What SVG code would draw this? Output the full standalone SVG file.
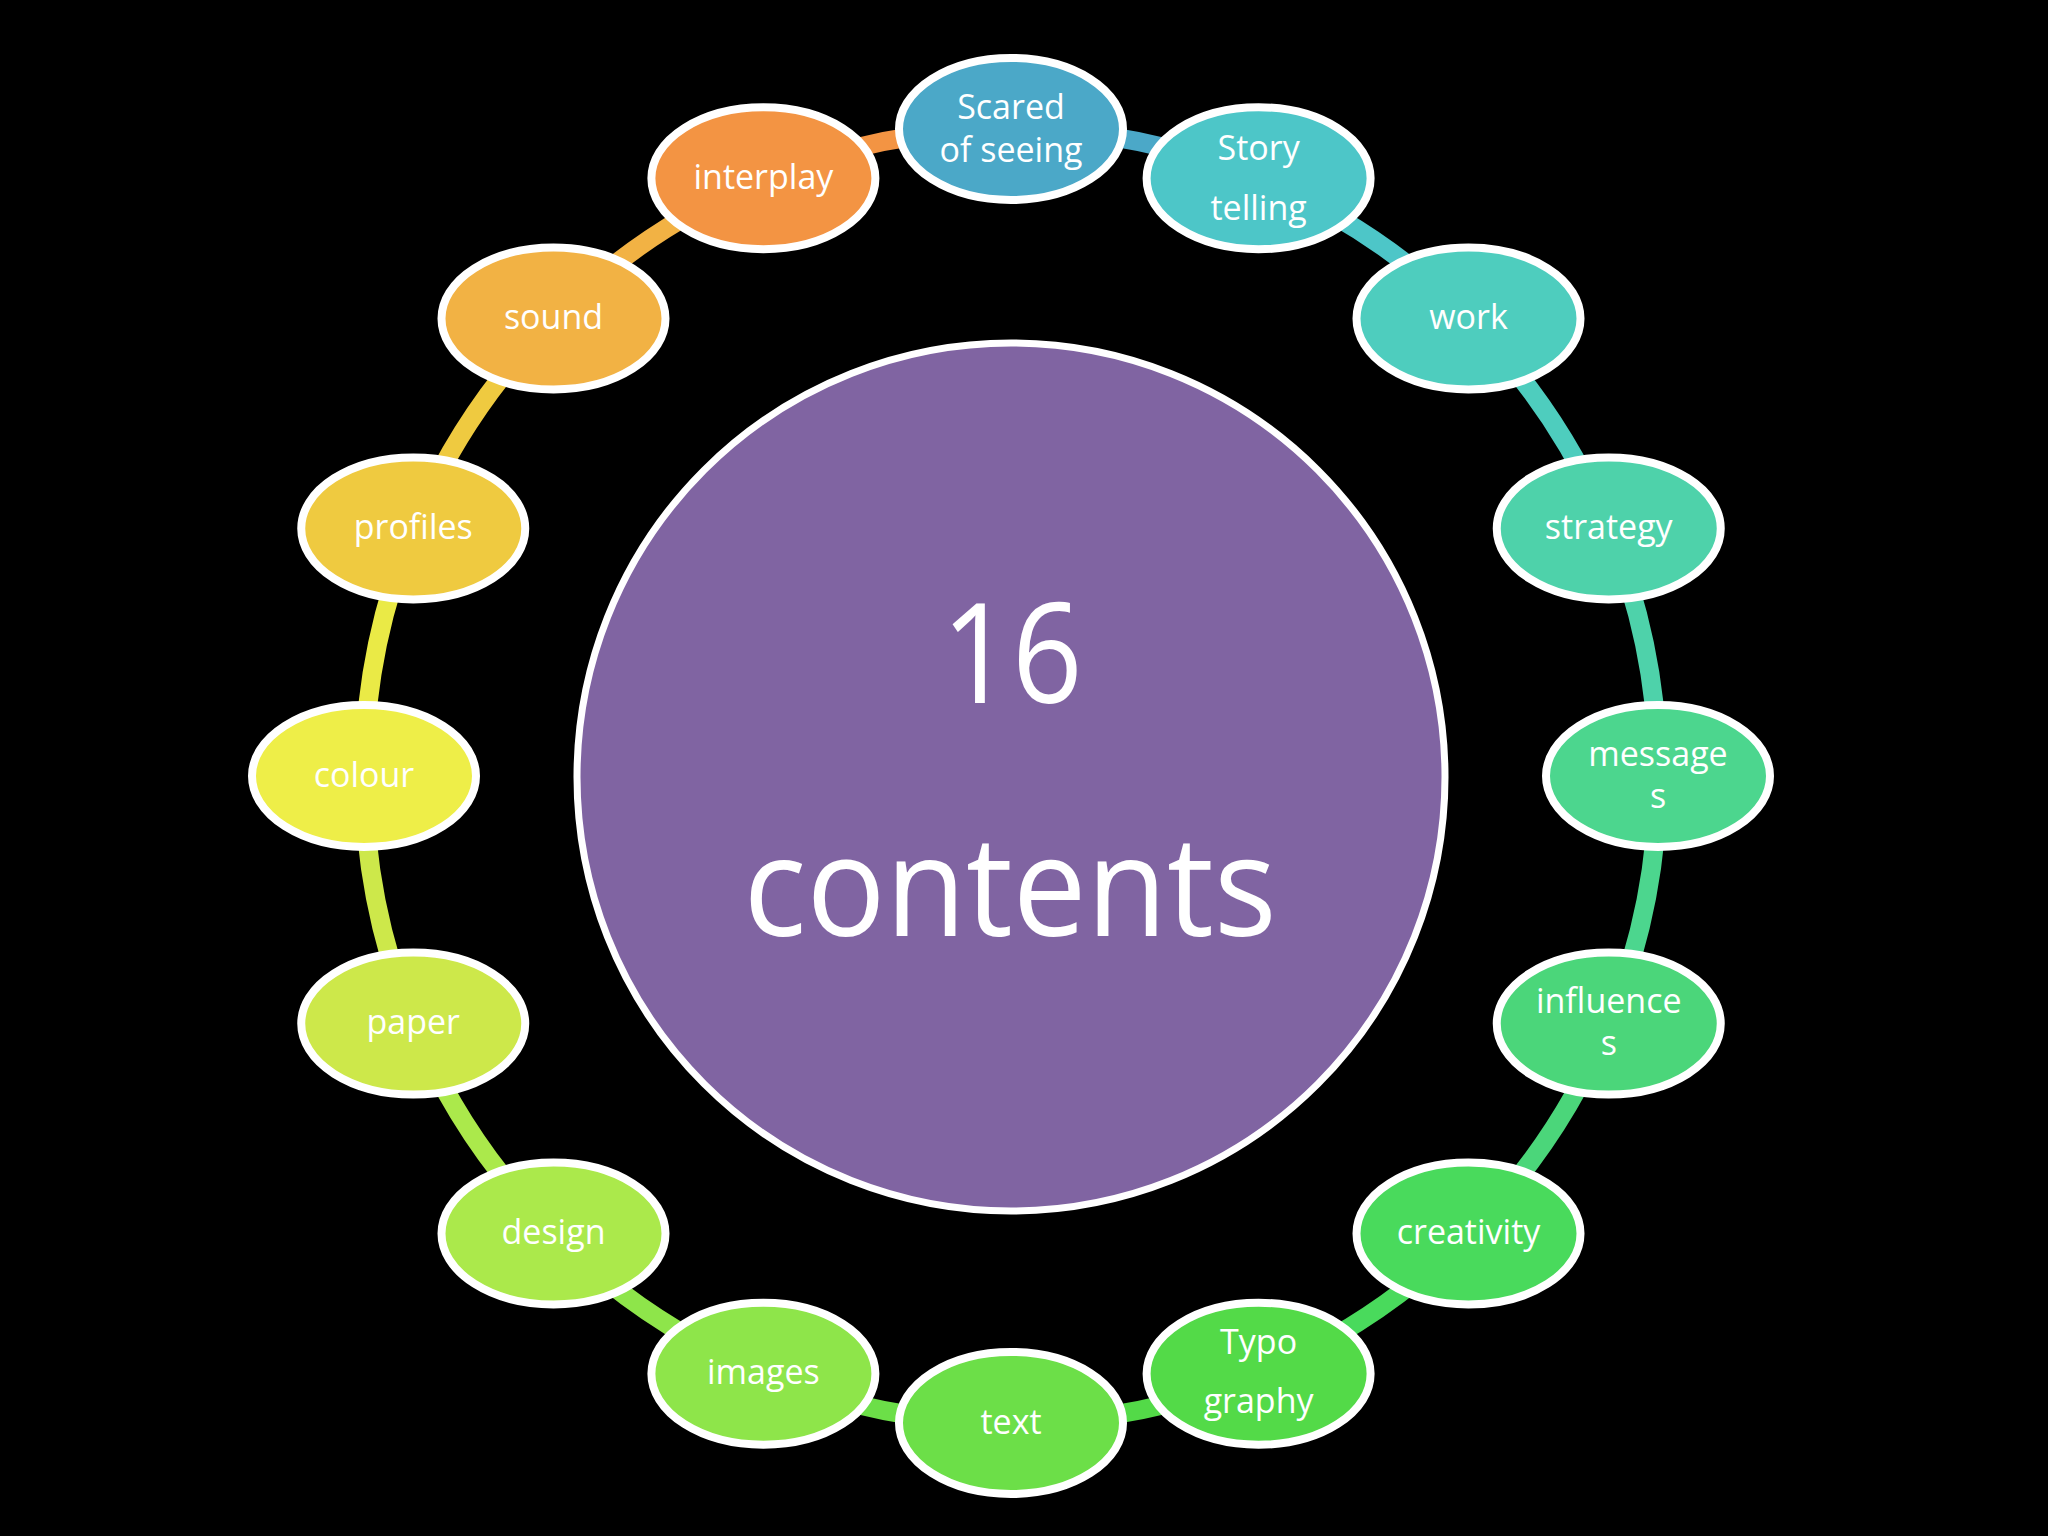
<svg xmlns="http://www.w3.org/2000/svg" width="2048" height="1536" viewBox="0 0 2048 1536">
<style>
.ring{fill:none;stroke-width:19}
.node ellipse{stroke:#fff;stroke-width:8}
.lbl{fill:#fff;font-family:"Open Sans","Noto Sans","DejaVu Sans",sans-serif;font-size:34px;text-anchor:middle}
.big{fill:#fff;font-family:"Open Sans","Noto Sans","DejaVu Sans",sans-serif;font-size:140px;text-anchor:middle}
</style>
<rect x="0" y="0" width="2048" height="1536" fill="#000"/>
<g id="connectors">
<path class="ring" stroke="#4BA8C8" d="M1011 129 A647 647 0 0 1 1258.6 178.25"/>
<path class="ring" stroke="#4DC6C8" d="M1258.6 178.25 A647 647 0 0 1 1468.5 318.5"/>
<path class="ring" stroke="#4ECDBE" d="M1468.5 318.5 A647 647 0 0 1 1608.75 528.4"/>
<path class="ring" stroke="#4ED2AA" d="M1608.75 528.4 A647 647 0 0 1 1658 776"/>
<path class="ring" stroke="#4CD68E" d="M1658 776 A647 647 0 0 1 1608.75 1023.6"/>
<path class="ring" stroke="#4BD67A" d="M1608.75 1023.6 A647 647 0 0 1 1468.5 1233.5"/>
<path class="ring" stroke="#49DA5C" d="M1468.5 1233.5 A647 647 0 0 1 1258.6 1373.75"/>
<path class="ring" stroke="#53DA48" d="M1258.6 1373.75 A647 647 0 0 1 1011 1423"/>
<path class="ring" stroke="#6CDF48" d="M1011 1423 A647 647 0 0 1 763.4 1373.75"/>
<path class="ring" stroke="#8EE54A" d="M763.4 1373.75 A647 647 0 0 1 553.5 1233.5"/>
<path class="ring" stroke="#ABE94B" d="M553.5 1233.5 A647 647 0 0 1 413.25 1023.6"/>
<path class="ring" stroke="#CDE84A" d="M413.25 1023.6 A647 647 0 0 1 364 776"/>
<path class="ring" stroke="#EAEA46" d="M364 776 A647 647 0 0 1 413.25 528.4"/>
<path class="ring" stroke="#EFCA40" d="M413.25 528.4 A647 647 0 0 1 553.5 318.5"/>
<path class="ring" stroke="#F2B244" d="M553.5 318.5 A647 647 0 0 1 763.4 178.25"/>
<path class="ring" stroke="#F39443" d="M763.4 178.25 A647 647 0 0 1 1011 129"/>
</g>
<g id="center">
<circle cx="1011" cy="777" r="434" fill="#8064A2" stroke="#fff" stroke-width="7"/>
<text class="big" x="1012" y="703" textLength="141" lengthAdjust="spacingAndGlyphs">16</text>
<text class="big" x="1010" y="936" textLength="533" lengthAdjust="spacingAndGlyphs">contents</text>
</g>
<g id="n0" class="node"><ellipse cx="1011" cy="129" rx="112" ry="71" fill="#4BA8C8"/><text class="lbl" x="1011" y="119">Scared</text><text class="lbl" x="1011" y="162">of seeing</text></g>
<g id="n1" class="node"><ellipse cx="1258.6" cy="178.25" rx="112" ry="71" fill="#4DC6C8"/><text class="lbl" x="1258.6" y="160">Story</text><text class="lbl" x="1258.6" y="220">telling</text></g>
<g id="n2" class="node"><ellipse cx="1468.5" cy="318.5" rx="112" ry="71" fill="#4ECDBE"/><text class="lbl" x="1468.5" y="329">work</text></g>
<g id="n3" class="node"><ellipse cx="1608.75" cy="528.4" rx="112" ry="71" fill="#4ED2AA"/><text class="lbl" x="1608.75" y="539">strategy</text></g>
<g id="n4" class="node"><ellipse cx="1658" cy="776" rx="112" ry="71" fill="#4CD68E"/><text class="lbl" x="1658" y="766">message</text><text class="lbl" x="1658" y="808">s</text></g>
<g id="n5" class="node"><ellipse cx="1608.75" cy="1023.6" rx="112" ry="71" fill="#4BD67A"/><text class="lbl" x="1608.75" y="1013">influence</text><text class="lbl" x="1608.75" y="1055">s</text></g>
<g id="n6" class="node"><ellipse cx="1468.5" cy="1233.5" rx="112" ry="71" fill="#49DA5C"/><text class="lbl" x="1468.5" y="1244">creativity</text></g>
<g id="n7" class="node"><ellipse cx="1258.6" cy="1373.75" rx="112" ry="71" fill="#53DA48"/><text class="lbl" x="1258.6" y="1354">Typo</text><text class="lbl" x="1258.6" y="1413">graphy</text></g>
<g id="n8" class="node"><ellipse cx="1011" cy="1423" rx="112" ry="71" fill="#6CDF48"/><text class="lbl" x="1011" y="1434">text</text></g>
<g id="n9" class="node"><ellipse cx="763.4" cy="1373.75" rx="112" ry="71" fill="#8EE54A"/><text class="lbl" x="763.4" y="1384">images</text></g>
<g id="n10" class="node"><ellipse cx="553.5" cy="1233.5" rx="112" ry="71" fill="#ABE94B"/><text class="lbl" x="553.5" y="1244">design</text></g>
<g id="n11" class="node"><ellipse cx="413.25" cy="1023.6" rx="112" ry="71" fill="#CDE84A"/><text class="lbl" x="413.25" y="1034">paper</text></g>
<g id="n12" class="node"><ellipse cx="364" cy="776" rx="112" ry="71" fill="#EEEE48"/><text class="lbl" x="364" y="787">colour</text></g>
<g id="n13" class="node"><ellipse cx="413.25" cy="528.4" rx="112" ry="71" fill="#EFCA40"/><text class="lbl" x="413.25" y="539">profiles</text></g>
<g id="n14" class="node"><ellipse cx="553.5" cy="318.5" rx="112" ry="71" fill="#F2B244"/><text class="lbl" x="553.5" y="329">sound</text></g>
<g id="n15" class="node"><ellipse cx="763.4" cy="178.25" rx="112" ry="71" fill="#F39443"/><text class="lbl" x="763.4" y="189">interplay</text></g>
</svg>
